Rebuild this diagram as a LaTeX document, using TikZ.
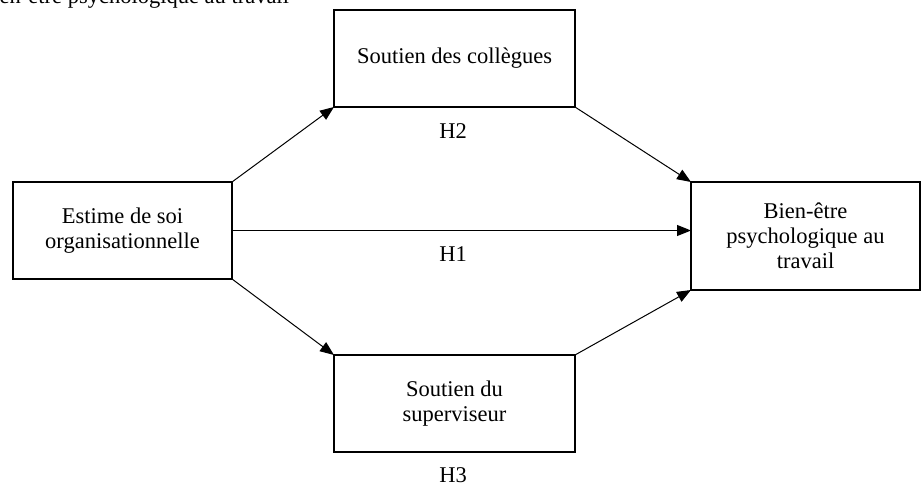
\documentclass[tikz,border=0pt]{standalone}
\usepackage{fontspec}
\setmainfont{Liberation Serif}
\usetikzlibrary{arrows.meta}
\begin{document}
\begin{tikzpicture}[x=1pt,y=-1pt,
  box/.style={draw, line width=2pt, inner sep=0pt, outer sep=0pt, align=center,
    font=\fontsize{22.5}{25}\selectfont},
  lbl/.style={inner sep=0pt, font=\fontsize{22.5}{25}\selectfont},
  link/.style={line width=1pt, -{Triangle[length=14pt,width=11pt]}}]
\useasboundingbox (0,0) rectangle (921,487);
\clip (0,0) rectangle (921,487);
\node[lbl, anchor=base west] (cap) at (-18,4) {bien-être psychologique au travail};
\node[box, minimum width=219pt, minimum height=97pt] (A) at (122.5,230.5) {Estime de soi\\organisationnelle};
\node[box, minimum width=241pt, minimum height=97pt] (B) at (454.5,58.5) {Soutien des collègues};
\node[box, minimum width=241pt, minimum height=97pt] (C) at (454.5,403.5) {Soutien du\\superviseur};
\node[box, minimum width=229pt, minimum height=108pt] (D) at (805.5,236) {Bien-être\\psychologique au\\travail};
\node[lbl] (H2) at (453,131) {H2};
\node[lbl] (H1) at (453,254) {H1};
\node[lbl] (H3) at (453,475) {H3};
\draw[link] (A.north east) -- (B.south west);
\draw[link] (B.south east) -- (D.north west);
\draw[link] (A.east) -- (A.east -| D.west);
\draw[link] (A.south east) -- (C.north west);
\draw[link] (C.north east) -- (D.south west);
\end{tikzpicture}
\end{document}
